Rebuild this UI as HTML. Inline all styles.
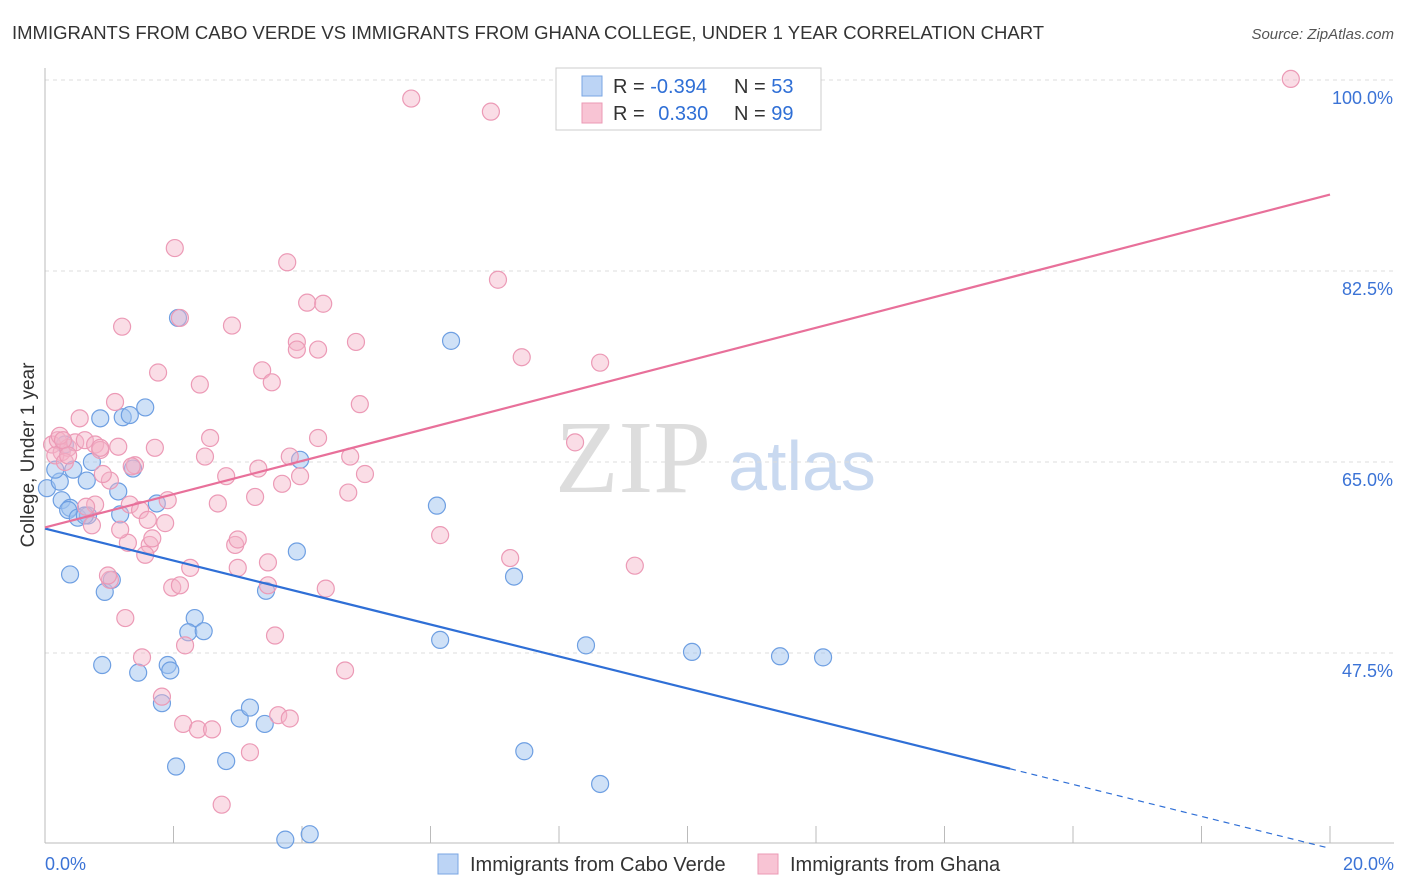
<!DOCTYPE html>
<html><head><meta charset="utf-8">
<style>
body{margin:0;background:#fff;font-family:"Liberation Sans",sans-serif;}
svg{display:block}
</style></head>
<body>
<svg id="chart" width="1406" height="892" xmlns="http://www.w3.org/2000/svg">
<text x="12" y="39" font-size="18.5" fill="#333">IMMIGRANTS FROM CABO VERDE VS IMMIGRANTS FROM GHANA COLLEGE, UNDER 1 YEAR CORRELATION CHART</text>
<text x="1394" y="39" font-size="15" fill="#555" text-anchor="end" font-style="italic">Source: ZipAtlas.com</text>
<g>
<text x="633" y="492" font-size="104" fill="#ddd" font-family="Liberation Serif,serif" text-anchor="middle">ZIP</text>
<text x="802" y="490" font-size="70" fill="#c9d9f0" text-anchor="middle">atlas</text>
</g>
<g id="grid"></g>
<g id="axes"></g>
<g id="marks"></g>
<g>
<rect x="556" y="68" width="265" height="62" fill="#fff" stroke="#ccc"/>
<rect x="582" y="76" width="20" height="20" fill="#bcd4f5" stroke="#7aa6e3"/>
<rect x="582" y="103" width="20" height="20" fill="#f8c4d4" stroke="#eb9ab5"/>
<text x="613" y="93" font-size="20" fill="#333">R = <tspan fill="#2f6fd6">-0.394</tspan></text>
<text x="734" y="93" font-size="20" fill="#333">N = <tspan fill="#2f6fd6">53</tspan></text>
<text x="613" y="120" font-size="20" fill="#333">R = <tspan fill="#2f6fd6" dx="8">0.330</tspan></text>
<text x="734" y="120" font-size="20" fill="#333">N = <tspan fill="#2f6fd6">99</tspan></text>
</g>
<g>
<rect x="438" y="854" width="20" height="20" fill="#bcd4f5" stroke="#7aa6e3"/>
<text x="470" y="871" font-size="20" fill="#333">Immigrants from Cabo Verde</text>
<rect x="758" y="854" width="20" height="20" fill="#f8c4d4" stroke="#eb9ab5"/>
<text x="790" y="871" font-size="20" fill="#333">Immigrants from Ghana</text>
</g>
<text transform="translate(34,455) rotate(-90)" font-size="19" fill="#333" text-anchor="middle">College, Under 1 year</text>
</svg>
<script>
const blueX=[0.03,0.23,0.26,0.39,0.44,0.36,0.51,0.67,0.73,0.65,0.86,0.39,0.93,1.04,1.14,1.17,1.21,1.32,1.56,1.37,1.74,2.07,0.89,1.45,1.91,1.95,1.82,2.33,2.23,2.47,2.04,2.82,3.03,3.19,3.42,3.44,3.92,3.97,3.74,4.12,6.10,6.32,6.15,7.30,7.46,8.42,8.64,10.07,11.44,12.11,0.62,0.16,0.31];
const blueY=[62.6,63.2,61.5,60.8,64.3,60.6,59.9,60.1,65.0,63.3,69.0,54.7,53.1,54.2,62.3,60.2,69.1,69.3,70.0,64.4,61.2,78.2,46.4,45.7,46.4,45.9,42.9,50.7,49.4,49.5,37.1,37.6,41.5,42.5,41.0,53.2,56.8,65.2,30.4,30.9,61.0,76.1,48.7,54.5,38.5,48.2,35.5,47.6,47.2,47.1,60.1,64.3,66.6];
const pinkX=[0.11,0.20,0.26,0.16,0.36,0.47,0.54,0.62,0.78,0.86,0.23,0.31,1.01,1.09,1.14,1.20,1.40,1.32,1.29,1.01,0.98,1.25,1.17,0.73,0.78,1.48,1.60,1.63,1.67,1.56,1.71,1.76,1.87,1.91,1.98,2.10,2.26,2.18,1.51,1.82,2.15,2.38,2.60,2.02,2.10,2.41,2.49,2.57,2.69,2.82,2.91,2.96,3.00,3.00,3.27,3.38,3.32,3.53,3.47,3.47,3.58,3.69,3.77,3.81,3.97,3.92,3.92,4.08,4.33,4.25,4.25,4.67,4.72,4.75,4.84,4.90,4.98,4.37,3.63,3.81,3.19,2.75,5.70,6.94,7.05,7.42,8.25,8.64,7.24,6.15,9.18,19.39,0.64,0.90,0.28,0.86,1.35,0.36];
const pinkY=[66.6,67.0,65.9,65.6,66.3,66.8,69.0,67.0,66.6,66.1,67.4,65.0,63.3,70.5,66.4,77.4,64.7,61.1,57.6,54.2,54.6,50.7,58.8,59.2,61.1,60.6,59.7,57.4,58.0,56.5,66.3,73.2,59.4,61.5,53.5,53.7,55.3,48.2,47.1,43.5,41.0,40.5,40.5,84.6,78.2,72.1,65.5,67.2,61.2,63.7,77.5,57.4,57.9,55.3,61.8,73.4,64.4,72.3,55.8,53.7,49.1,63.0,83.3,65.5,63.7,76.0,75.3,79.6,79.5,75.3,67.2,45.9,62.2,65.5,76.0,70.3,63.9,53.4,41.8,41.5,38.4,33.6,98.3,97.1,81.7,74.6,66.8,74.1,56.2,58.3,55.5,100.1,60.9,63.9,67.0,66.3,64.6,65.6];
const blueTrend=[58.9,29.6]; // y at x=0 and x=20
const pinkTrend=[59.0,89.5];
const yTicks=[100,82.5,65,47.5];
const yTickLabels=["100.0%","82.5%","65.0%","47.5%"];
const xTicks=[0,2,4,6,8,10,12,14,16,18,20];

const NS="http://www.w3.org/2000/svg";
const X0=45,X1=1330,Y0=843,YTOP=80;
const xs=v=>X0+(v/20)*(X1-X0);
const ys=v=>YTOP+(100-v)/17.5*191;
function mk(tag,attrs,parent){const e=document.createElementNS(NS,tag);for(const k in attrs)e.setAttribute(k,attrs[k]);document.getElementById(parent).appendChild(e);return e;}

yTicks.forEach((t,i)=>{
  const g=mk('line',{x1:X0,x2:1394,y1:ys(t),y2:ys(t),stroke:'#ddd','stroke-dasharray':'4,4'},'grid');
  
  
  const l=mk('text',{x:1393,y:ys(t)+24,'font-size':18,fill:'#3b73d6','text-anchor':'end'},'axes');
  l.textContent=yTickLabels[i];
  
  
});
const ax=mk('line',{x1:X0,x2:1394,y1:Y0,y2:Y0,stroke:'#bbb'},'axes');


const ay=mk('line',{x1:X0,x2:X0,y1:68,y2:Y0,stroke:'#bbb'},'axes');


xTicks.forEach(t=>{
  const tk=mk('line',{x1:xs(t),x2:xs(t),y1:826,y2:Y0,stroke:'#bbb'},'axes');
  
  
});
const xl0=mk('text',{x:45,y:870,'font-size':18,fill:'#3b73d6'},'axes');xl0.textContent='0.0%';


const xl1=mk('text',{x:1394,y:870,'font-size':18,fill:'#3b73d6','text-anchor':'end'},'axes');xl1.textContent='20.0%';



blueX.forEach((x,i)=>{
  const c=mk('circle',{cx:xs(x),cy:ys(blueY[i]),r:8.5,fill:'rgba(160,195,240,0.5)',stroke:'#6e9fe2','stroke-width':1.2},'marks');
  
  
});
pinkX.forEach((x,i)=>{
  const c=mk('circle',{cx:xs(x),cy:ys(pinkY[i]),r:8.5,fill:'rgba(245,180,200,0.45)',stroke:'#ec9ab6','stroke-width':1.2},'marks');
  
  
});
const bAt=x=>blueTrend[0]+(blueTrend[1]-blueTrend[0])*x/20;
const pAt=x=>pinkTrend[0]+(pinkTrend[1]-pinkTrend[0])*x/20;
const xSolid=15.02;
const bl=mk('line',{x1:xs(0),y1:ys(bAt(0)),x2:xs(xSolid),y2:ys(bAt(xSolid)),stroke:'#2f6fd6','stroke-width':2.2},'marks');


const bd=mk('line',{x1:xs(xSolid),y1:ys(bAt(xSolid)),x2:xs(20),y2:ys(bAt(20)),stroke:'#2f6fd6','stroke-width':1.2,'stroke-dasharray':'6,5'},'marks');


const pl=mk('line',{x1:xs(0),y1:ys(pAt(0)),x2:xs(20),y2:ys(pAt(20)),stroke:'#e8709a','stroke-width':2.2},'marks');


</script>
</body></html>
